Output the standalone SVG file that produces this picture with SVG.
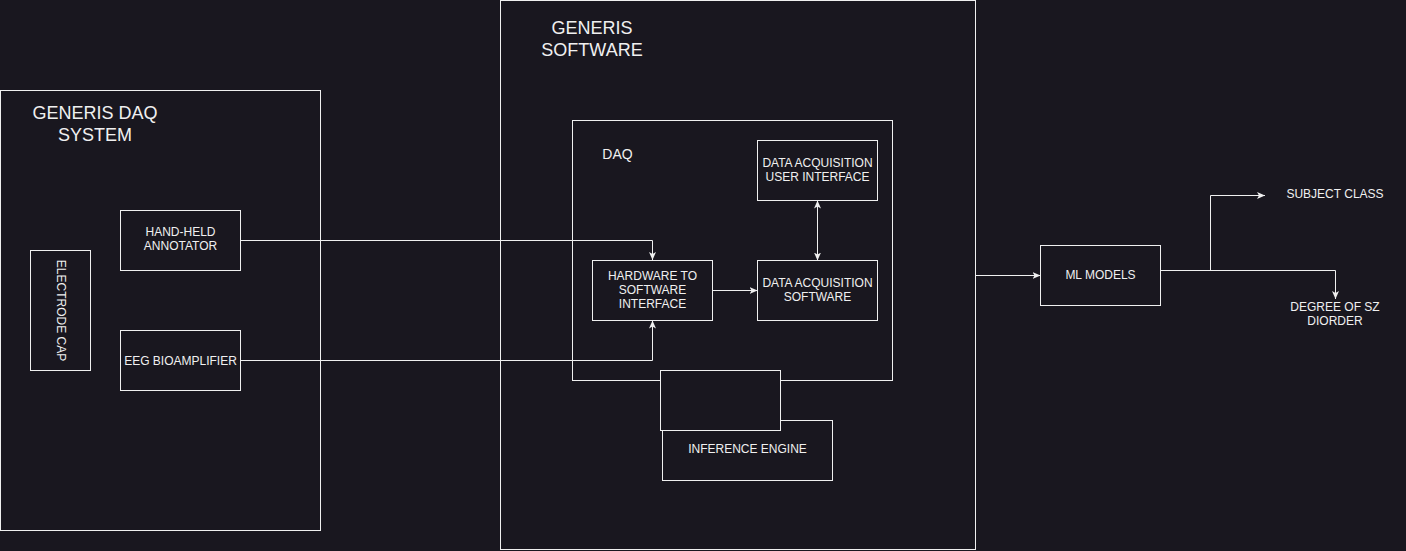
<svg xmlns="http://www.w3.org/2000/svg" width="1406" height="551" viewBox="0 0 1406 551">
<style>
.box{fill:#19171f;stroke:#f0f0f0;stroke-width:1}
.frame{fill:none;stroke:#f0f0f0;stroke-width:1}
.t{font-family:"Liberation Sans",Arial,sans-serif;font-size:12px;fill:#f0f0f0;text-anchor:middle}
.title{font-family:"Liberation Sans",Arial,sans-serif;font-size:18px;fill:#f0f0f0;text-anchor:middle}
.edge{fill:none;stroke:#f0f0f0;stroke-width:1}
</style>
<defs>
<marker id="arr" markerUnits="userSpaceOnUse" markerWidth="10" markerHeight="10" refX="8" refY="4" orient="auto-start-reverse" viewBox="0 0 10 8">
<path d="M0,0.5 L8,4 L0,7.5 L2,4 Z" fill="#f0f0f0"/>
</marker>
</defs>
<rect width="1406" height="551" fill="#19171f"/>

<g id="daq-system">
<rect class="frame" x="0.5" y="90.5" width="320" height="440"/>
<text class="title" x="95" y="119">GENERIS DAQ</text>
<text class="title" x="95" y="141">SYSTEM</text>
</g>

<g id="generis-software">
<rect class="frame" x="500.5" y="0.5" width="475" height="549"/>
<text class="title" x="592" y="34">GENERIS</text>
<text class="title" x="592" y="56">SOFTWARE</text>
</g>

<g id="daq">
<rect class="frame" x="572.5" y="120.5" width="320" height="260"/>
<text class="t" x="617.5" y="159" style="font-size:14px">DAQ</text>
</g>

<g id="connectors">
<path class="edge" d="M240.5,240.5 H652.5 V260" marker-end="url(#arr)"/>
<path class="edge" d="M240.5,360.5 H652.5 V320.5" marker-end="url(#arr)"/>
<path class="edge" d="M712.5,290.5 H757.5" marker-end="url(#arr)"/>
<path class="edge" d="M817.5,200.5 V260.5" marker-start="url(#arr)" marker-end="url(#arr)"/>
<path class="edge" d="M975.5,275.5 H1040.5" marker-end="url(#arr)"/>
<path class="edge" d="M1160.5,270.5 H1210.5 V195.5 H1265" marker-end="url(#arr)"/>
<path class="edge" d="M1160.5,270.5 H1335.5 V299" marker-end="url(#arr)"/>
</g>

<g id="hand-held-annotator">
<rect class="box" x="120.5" y="210.5" width="120" height="60"/>
<text class="t" x="180.5" y="236">HAND-HELD</text>
<text class="t" x="180.5" y="250">ANNOTATOR</text>
</g>

<g id="electrode-cap">
<rect class="box" x="30.5" y="250.5" width="60" height="120"/>
<text class="t" transform="translate(60.5,310.5) rotate(90)" x="0" y="4">ELECTRODE CAP</text>
</g>

<g id="eeg-bioamplifier">
<rect class="box" x="120.5" y="330.5" width="120" height="60"/>
<text class="t" x="180.5" y="364.5">EEG BIOAMPLIFIER</text>
</g>

<g id="daq-user-interface">
<rect class="box" x="757.5" y="140.5" width="120" height="60"/>
<text class="t" x="817.5" y="166.5">DATA ACQUISITION</text>
<text class="t" x="817.5" y="180.5">USER INTERFACE</text>
</g>

<g id="hw-sw-interface">
<rect class="box" x="592.5" y="260.5" width="120" height="60"/>
<text class="t" x="652.5" y="279.5">HARDWARE TO</text>
<text class="t" x="652.5" y="293.5">SOFTWARE</text>
<text class="t" x="652.5" y="307.5">INTERFACE</text>
</g>

<g id="daq-software">
<rect class="box" x="757.5" y="260.5" width="120" height="60"/>
<text class="t" x="817.5" y="286.5">DATA ACQUISITION</text>
<text class="t" x="817.5" y="300.5">SOFTWARE</text>
</g>

<g id="inference-engine">
<rect class="box" x="662.5" y="420.5" width="170" height="60"/>
<text class="t" x="747.5" y="453">INFERENCE ENGINE</text>
</g>

<g id="empty-box">
<rect class="box" x="660.5" y="370.5" width="120" height="60"/>
</g>

<g id="ml-models">
<rect class="box" x="1040.5" y="245.5" width="120" height="60"/>
<text class="t" x="1100.5" y="279">ML MODELS</text>
</g>

<g id="subject-class">
<text class="t" x="1335" y="198">SUBJECT CLASS</text>
</g>

<g id="degree-of-sz">
<text class="t" x="1335" y="311">DEGREE OF SZ</text>
<text class="t" x="1335" y="325">DIORDER</text>
</g>
</svg>
